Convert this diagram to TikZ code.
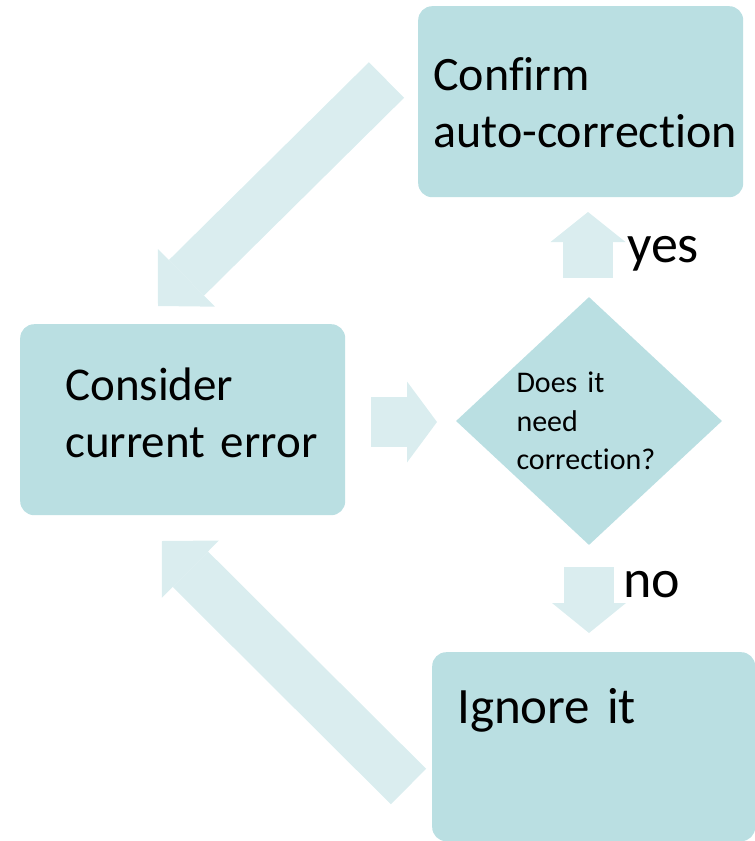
\documentclass[tikz,border=0pt]{standalone}
\usepackage{fontspec}
\setmainfont{Carlito}[Ligatures=CommonOff]
\usetikzlibrary{arrows.meta,shapes.geometric}
\definecolor{boxteal}{RGB}{186,223,226}
\definecolor{arrowteal}{RGB}{218,237,239}
\tikzset{
    task/.style={
    rectangle,rounded corners=14pt,fill=boxteal,inner sep=0pt,align=left,
    anchor=north west,font=\fontsize{47}{57.5}\selectfont
    },
    indent/.style={
    execute at begin node={\leftskip=#1\relax}
    },
    decision/.style={
    diamond,fill=boxteal,inner sep=0pt,align=left,text width=145pt,
    minimum width=266pt,minimum height=248pt,font=\fontsize{30}{38.5}\selectfont
    },
    answer/.style={
    inner sep=0pt,anchor=base west,font=\fontsize{54}{60}\selectfont
    },
    flow/.style 2 args={
    draw=arrowteal,line width=50pt,-{Triangle[length=#1,width=#2,line width=0pt]}
    },
}

\begin{document}
\begin{tikzpicture}[x=1pt,y=-1pt]
   \useasboundingbox (0,0) rectangle (755,841);

   % boxes
   \node[task,indent=15pt,text width=325pt,text height=84pt,text depth=107pt,
     font=\fontsize{48}{57.5}\selectfont] (confirm) at (418,6) {Confirm\\auto-correction};
   \node[task,indent=45pt,text width=325pt,text height=76pt,text depth=115pt] (consider) at (20,324) {Consider\\current error};
   \node[task,indent=25pt,text width=323pt,text height=71pt,text depth=118pt,
     font=\fontsize{51}{60}\selectfont] (ignore) at (432,652) {Ignore it};
   \node[decision] (check) at (589,421) {Does it\\need\\correction?};

   % arrow ends
   \coordinate (back1s) at (386.5,80);
   \coordinate (back1e) at (158,306);
   \coordinate (back2s) at (408.5,786.5);
   \coordinate (back2e) at (162,541);
   \coordinate (asks) at (371,422);
   \coordinate (aske) at (437,422);
   \coordinate (yess) at (588,278);
   \coordinate (yese) at (588,212);
   \coordinate (nos) at (589,567);
   \coordinate (noe) at (589,633);

  \path
    (back1s) edge[flow={40pt}{81pt}] (back1e)
    (back2s) edge[flow={40pt}{81pt}] (back2e)
    (asks) edge[flow={30pt}{81pt}] (aske)
    (yess) edge[flow={30pt}{75pt}] (yese)
    (nos) edge[flow={30pt}{74pt}] (noe);

   \node[answer] (yes) at (627,262) {yes};
   \node[answer] (no) at (623,597) {no};
\end{tikzpicture}
\end{document}
